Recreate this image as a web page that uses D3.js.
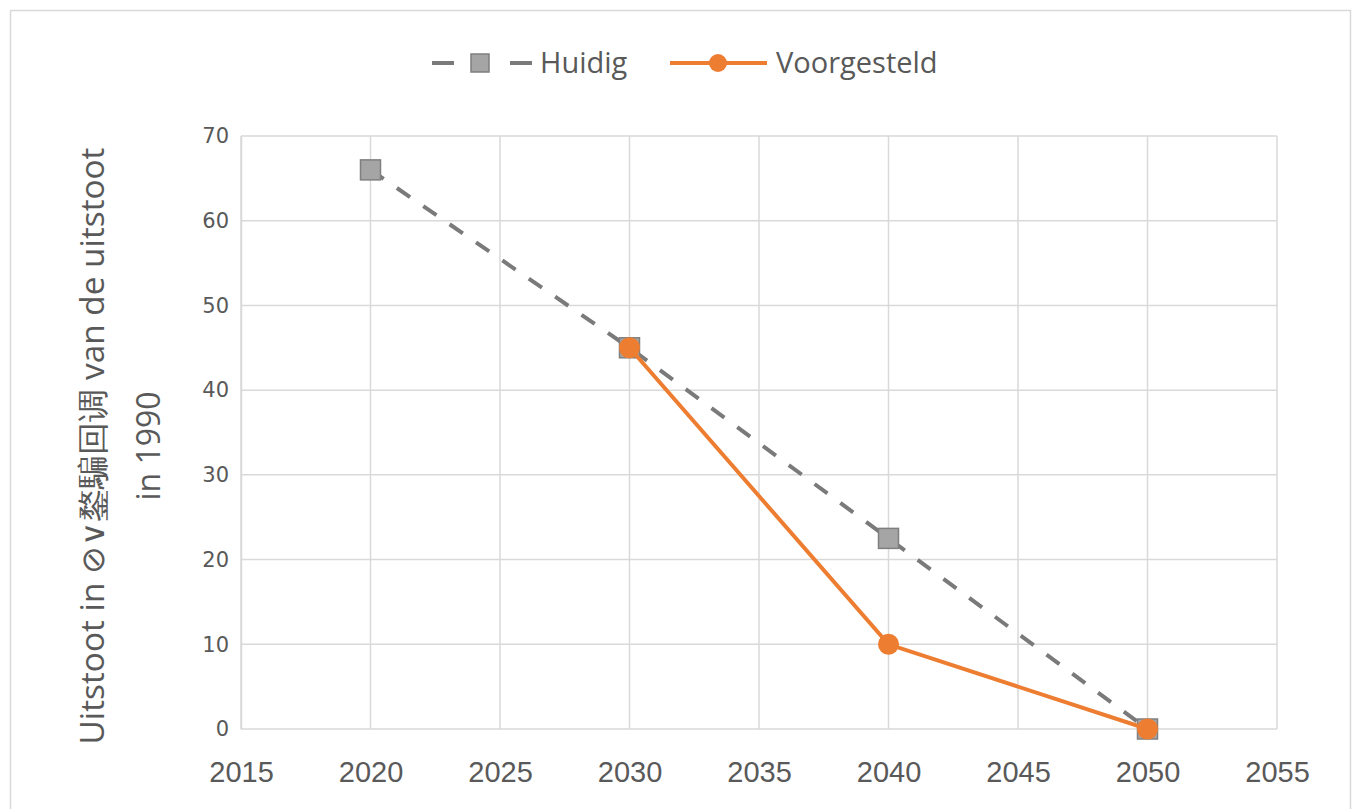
<!DOCTYPE html>
<html lang="nl">
<head>
<meta charset="utf-8">
<title>Uitstoot</title>
<script src="https://d3js.org/d3.v7.min.js"></script>
<style>
  body { margin: 0; background: #fff; }
  svg text { fill: #595959; }
</style>
</head>
<body>
<script>
// data
const years = [2020, 2030, 2040, 2050];
const huidig = [66, 45, 22.5, 0];
const voorgesteld = [null, 45, 10, 0];
const xTicks = [2015, 2020, 2025, 2030, 2035, 2040, 2045, 2050, 2055];
const yTicks = [0, 10, 20, 30, 40, 50, 60, 70];

const w = 1355, h = 809;
const plotLeft = 241, plotRight = 1277, plotTop = 136, plotBottom = 729;

const svg = d3.select("body").append("svg")
  .attr("width", w).attr("height", h);

// chart frame
svg.append("rect")
  .attr("x", 10.5).attr("y", 10.5)
  .attr("width", 1340).attr("height", 810)
  .attr("fill", "#fff").attr("stroke", "#d9d9d9").attr("stroke-width", 1.5);

const x = d3.scaleLinear().domain([2015, 2055]).range([plotLeft, plotRight]);
const y = d3.scaleLinear().domain([0, 70]).range([plotBottom, plotTop]);

// grid
svg.append("g").selectAll("line").data(xTicks).join("line")
  .attr("x1", d => x(d)).attr("x2", d => x(d))
  .attr("y1", plotTop).attr("y2", plotBottom)
  .attr("stroke", "#d9d9d9").attr("stroke-width", 1.5);
svg.append("g").selectAll("line").data(yTicks).join("line")
  .attr("x1", plotLeft).attr("x2", plotRight)
  .attr("y1", d => y(d)).attr("y2", d => y(d))
  .attr("stroke", "#d9d9d9").attr("stroke-width", 1.5);

// axes (labels only)
const xAxis = svg.append("g")
  .attr("transform", "translate(0," + plotBottom + ")")
  .call(d3.axisBottom(x).tickValues(xTicks).tickFormat(d3.format("d")).tickSize(0).tickPadding(32));
xAxis.select(".domain").remove();
xAxis.selectAll("text")
  .style("font-family", "'Liberation Sans Narrow', 'Liberation Sans', sans-serif")
  .style("font-size", "29px").style("fill", "#595959");

const yAxis = svg.append("g")
  .attr("transform", "translate(" + plotLeft + ",0)")
  .call(d3.axisLeft(y).tickValues(yTicks).tickSize(0).tickPadding(12));
yAxis.select(".domain").attr("stroke", "#d9d9d9").attr("stroke-width", 1.5);
yAxis.selectAll("text")
  .style("font-family", "'DejaVu Sans', sans-serif")
  .style("font-size", "21px").style("fill", "#595959");

// y-axis title
const title = svg.append("text")
  .attr("transform", "translate(104,446) rotate(-90)")
  .attr("text-anchor", "middle")
  .style("font-family", "'Open Sans', sans-serif")
  .style("font-size", "32px");
title.append("tspan").attr("x", 0).attr("dy", 0)
  .attr("textLength", 597).attr("lengthAdjust", "spacingAndGlyphs")
  .text("Uitstoot in \u2298\u2228\u936a\u9a19\u56de\u8c03 van de uitstoot");
title.append("tspan").attr("x", 0).attr("dy", 56).text("in 1990");

// lines
const line = d3.line()
  .defined(d => d[1] !== null)
  .x(d => x(d[0])).y(d => y(d[1]));

const huidigPts = years.map((yr, i) => [yr, huidig[i]]);
const voorPts = years.map((yr, i) => [yr, voorgesteld[i]]);

svg.append("path").datum(huidigPts)
  .attr("d", line).attr("fill", "none")
  .attr("stroke", "#7a7a7a").attr("stroke-width", 4)
  .attr("stroke-dasharray", "16,16");

svg.append("g").selectAll("rect").data(huidigPts).join("rect")
  .attr("x", d => x(d[0]) - 10).attr("y", d => y(d[1]) - 10)
  .attr("width", 20).attr("height", 20)
  .attr("fill", "#a5a5a5").attr("stroke", "#7f7f7f").attr("stroke-width", 1.5);

svg.append("path").datum(voorPts)
  .attr("d", line).attr("fill", "none")
  .attr("stroke", "#ed7d31").attr("stroke-width", 4);

svg.append("g").selectAll("circle").data(voorPts.filter(d => d[1] !== null)).join("circle")
  .attr("cx", d => x(d[0])).attr("cy", d => y(d[1]))
  .attr("r", 10.5).attr("fill", "#ed7d31");

// legend
const lg = svg.append("g").attr("transform", "translate(0,63)");
lg.append("line").attr("x1", 432).attr("x2", 532).attr("y1", 0).attr("y2", 0)
  .attr("stroke", "#7a7a7a").attr("stroke-width", 4).attr("stroke-dasharray", "22,56");
lg.append("rect").attr("x", 471).attr("y", -9).attr("width", 18).attr("height", 18)
  .attr("fill", "#a5a5a5").attr("stroke", "#7f7f7f").attr("stroke-width", 1.5);
lg.append("text").attr("x", 540).attr("y", 0).attr("dy", "0.35em")
  .style("font-family", "'Open Sans', sans-serif").style("font-size", "29px").text("Huidig");
lg.append("line").attr("x1", 670).attr("x2", 767).attr("y1", 0).attr("y2", 0)
  .attr("stroke", "#ed7d31").attr("stroke-width", 4);
lg.append("circle").attr("cx", 718).attr("cy", 0).attr("r", 9).attr("fill", "#ed7d31");
lg.append("text").attr("x", 776).attr("y", 0).attr("dy", "0.35em")
  .style("font-family", "'Open Sans', sans-serif").style("font-size", "29px").text("Voorgesteld");
</script>
</body>
</html>
